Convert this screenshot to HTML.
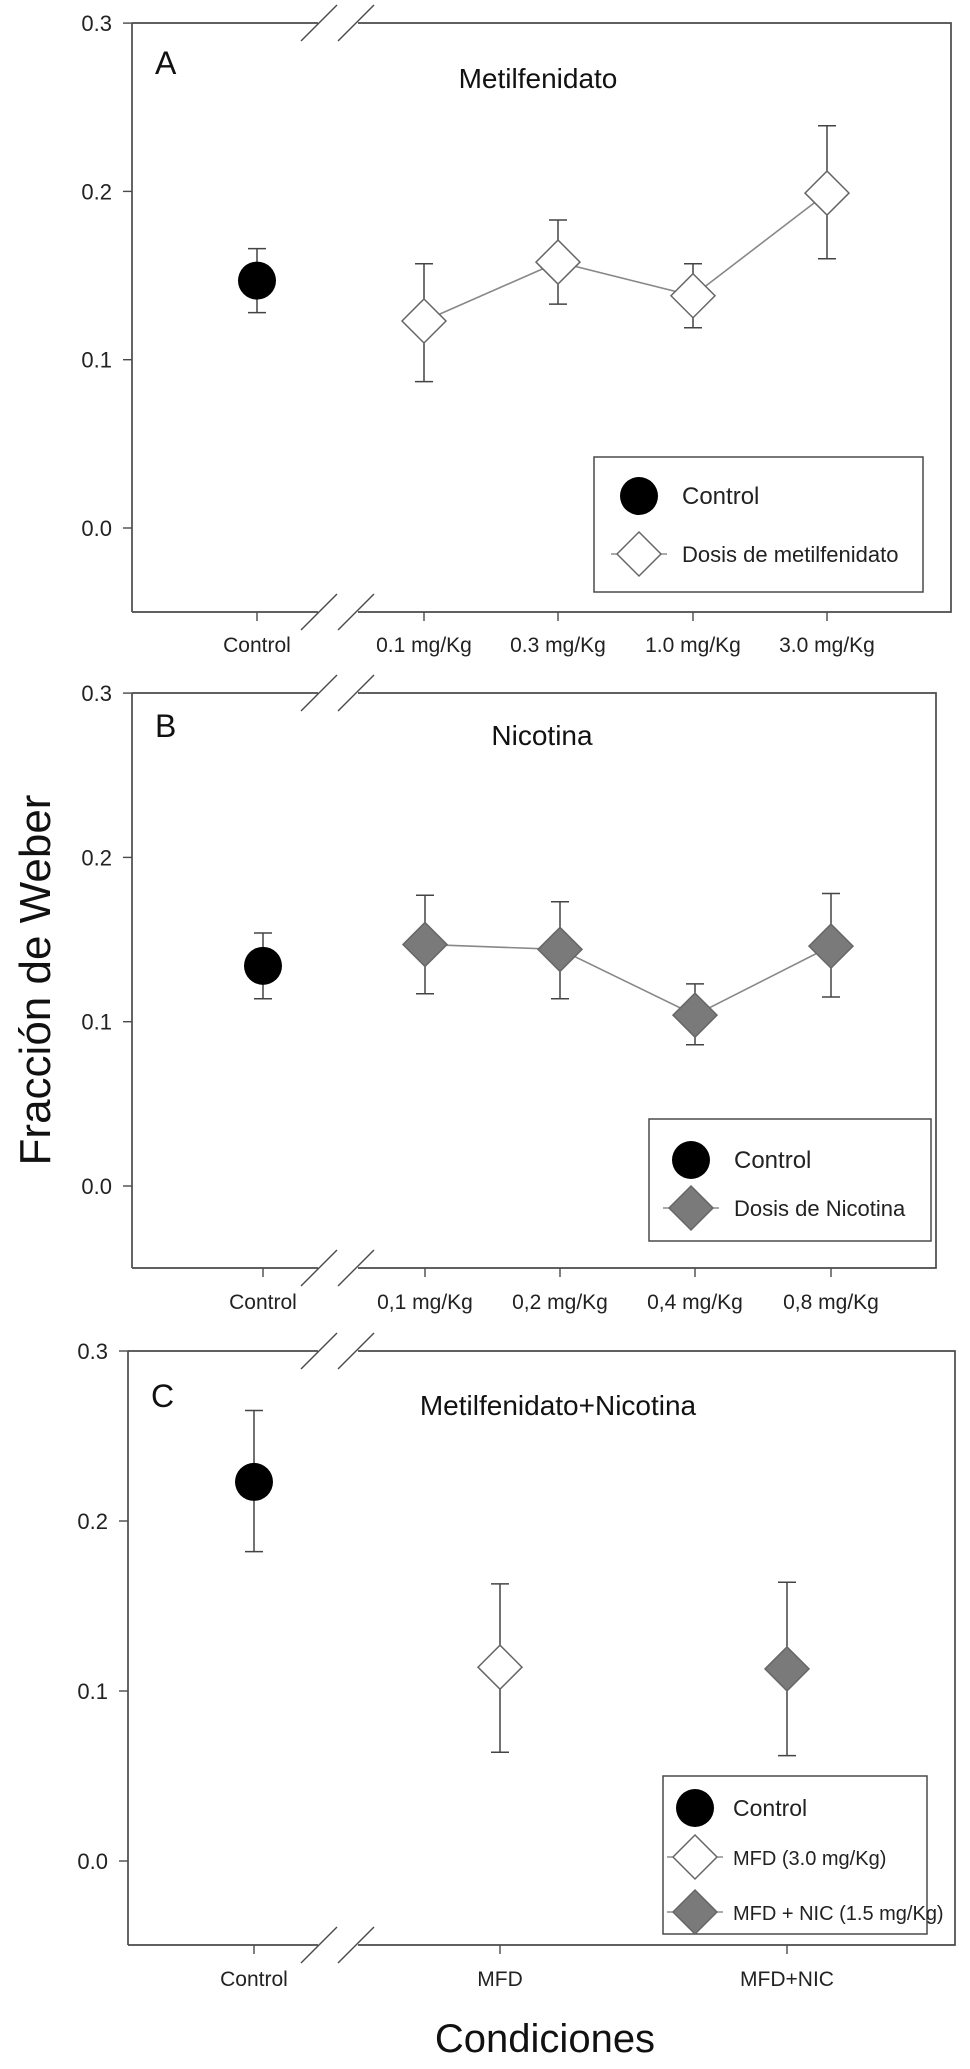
<!DOCTYPE html>
<html><head><meta charset="utf-8"><style>
html,body{margin:0;padding:0;background:#fff;}
svg{display:block;font-family:"Liberation Sans",Arial,sans-serif;}
</style></head><body>
<svg id="fig" width="970" height="2069" viewBox="0 0 970 2069" xmlns="http://www.w3.org/2000/svg">
<text x="0" y="0" transform="translate(50,980) rotate(-90)" text-anchor="middle" font-size="44" fill="#111">Fracción de Weber</text>
<text x="545" y="2052" text-anchor="middle" font-size="40" fill="#111">Condiciones</text>
</svg>
<script>
// ---- data ----
const yTicks = [0.0, 0.1, 0.2, 0.3];
const yTickLabels = ["0.0", "0.1", "0.2", "0.3"];
const catsA = ["Control", "0.1 mg/Kg", "0.3 mg/Kg", "1.0 mg/Kg", "3.0 mg/Kg"];
const meanA = [0.147, 0.123, 0.158, 0.138, 0.199];
const hiA = [0.166, 0.157, 0.183, 0.157, 0.239];
const loA = [0.128, 0.087, 0.133, 0.119, 0.160];
const catsB = ["Control", "0,1 mg/Kg", "0,2  mg/Kg", "0,4  mg/Kg", "0,8  mg/Kg"];
const meanB = [0.134, 0.147, 0.144, 0.104, 0.146];
const hiB = [0.154, 0.177, 0.173, 0.123, 0.178];
const loB = [0.114, 0.117, 0.114, 0.086, 0.115];
const catsC = ["Control", "MFD", "MFD+NIC"];
const meanC = [0.223, 0.114, 0.113];
const hiC = [0.265, 0.163, 0.164];
const loC = [0.182, 0.064, 0.062];

const NS = "http://www.w3.org/2000/svg";
const svg = document.getElementById('fig');
function mk(tag, attrs, parent, text) {
  const e = document.createElementNS(NS, tag);
  for (const k in attrs) e.setAttribute(k, attrs[k]);
  if (text !== undefined) e.textContent = text;
  (parent || svg).appendChild(e);
  return e;
}
const STK = "#4a4a4a";
const CR = 19, DR = 22;

function panel(cfg, cats, mean, hi, lo) {
  const g = mk('g', {});
  
  
  const y = v => cfg.y0 - (v - 0) / 0.1 * cfg.sp;
  const x = i => cfg.xs[i];
  const fr = mk('path', {d: `M${cfg.L},${cfg.T} H318 M358,${cfg.T} H${cfg.R} V${cfg.B} H358 M318,${cfg.B} H${cfg.L} Z`, fill: 'none', stroke: STK, 'stroke-width': 1.7}, g);
  
  
  const fl = mk('line', {x1: cfg.L, y1: cfg.T, x2: cfg.L, y2: cfg.B, stroke: STK, 'stroke-width': 1.7}, g);
  
  
  [cfg.T, cfg.B].forEach(yy => {
    [0, 37].forEach(dx => {
      const s = mk('line', {x1: 301 + dx, y1: yy + 18, x2: 337 + dx, y2: yy - 18, stroke: STK, 'stroke-width': 1.4}, g);
      
      
    });
  });
  yTicks.forEach((v, i) => {
    const t = mk('line', {x1: cfg.L - 9, y1: y(v), x2: cfg.L, y2: y(v), stroke: STK, 'stroke-width': 1.4}, g);
    
    
    const l = mk('text', {x: cfg.L - 20, y: y(v) + 8, 'text-anchor': 'end', 'font-size': 22, fill: '#222'}, g, yTickLabels[i]);
    
    
  });
  cats.forEach((c, i) => {
    const t = mk('line', {x1: x(i), y1: cfg.B, x2: x(i), y2: cfg.B + 9, stroke: STK, 'stroke-width': 1.4}, g);
    
    
    const l = mk('text', {x: x(i), y: cfg.lblY, 'text-anchor': 'middle', 'font-size': 21, fill: '#222'}, g, c);
    
    
  });
  const lt = mk('text', {x: cfg.L + 23, y: cfg.letterY, 'font-size': 32, fill: '#111'}, g, cfg.letter);
  
  
  const tt = mk('text', {x: cfg.titleX, y: cfg.titleY, 'text-anchor': 'middle', 'font-size': 28, fill: '#111'}, g, cfg.title);
  
  
  if (cfg.connect) {
    const pts = mean.slice(1).map((v, k) => `${x(k + 1)},${y(v)}`).join(' ');
    const pl = mk('polyline', {points: pts, fill: 'none', stroke: '#888', 'stroke-width': 1.6}, g);
    
    
  }
  mean.forEach((v, i) => {
    const eb = mk('path', {d: `M${x(i)},${y(hi[i])} V${y(lo[i])} M${x(i) - 9},${y(hi[i])} H${x(i) + 9} M${x(i) - 9},${y(lo[i])} H${x(i) + 9}`, stroke: '#444', 'stroke-width': 1.5, fill: 'none'}, g);
    
    
    const type = cfg.markers[i];
    let m;
    if (type === 'circle') {
      m = mk('ellipse', {cx: x(i), cy: y(v), rx: CR, ry: CR, fill: '#000'}, g);
      
    } else {
      const cx = x(i), cy = y(v), r = DR;
      m = mk('polygon', {points: `${cx},${cy - r} ${cx + r},${cy} ${cx},${cy + r} ${cx - r},${cy}`, fill: type === 'white' ? '#fff' : '#7a7a7a', stroke: '#666', 'stroke-width': 1.5}, g);
      
    }
    
  });
  const lg = mk('g', {}, g);
  
  
  const L = cfg.legend;
  mk('rect', {x: L.x, y: L.y, width: L.w, height: L.h, fill: '#fff', stroke: STK, 'stroke-width': 1.5}, lg);
  L.entries.forEach(en => {
    const eg = mk('g', {}, lg);
    
    
    if (en.m === 'circle') mk('circle', {cx: L.mx, cy: en.y, r: CR, fill: '#000'}, eg);
    else {
      mk('line', {x1: L.mx - 28, y1: en.y, x2: L.mx + 28, y2: en.y, stroke: '#777', 'stroke-width': 1.3}, eg);
      const r = DR;
      mk('polygon', {points: `${L.mx},${en.y - r} ${L.mx + r},${en.y} ${L.mx},${en.y + r} ${L.mx - r},${en.y}`, fill: en.m === 'white' ? '#fff' : '#7a7a7a', stroke: '#666', 'stroke-width': 1.5}, eg);
    }
    mk('text', {x: L.tx, y: en.y + 8, 'font-size': en.fs, fill: '#222'}, eg, en.t);
  });
}

panel({name: 'panel-a-metilfenidato', L: 132, R: 951, T: 23, B: 612, y0: 528, sp: 168.3,
  xs: [257, 424, 558, 693, 827], lblY: 652, letter: 'A', letterY: 74, title: 'Metilfenidato', titleX: 538, titleY: 88,
  connect: true, markers: ['circle', 'white', 'white', 'white', 'white'],
  legend: {x: 594, y: 457, w: 329, h: 135, mx: 639, tx: 682, entries: [
    {m: 'circle', y: 496, t: 'Control', fs: 24}, {m: 'white', y: 554, t: 'Dosis de metilfenidato', fs: 22}]}},
  catsA, meanA, hiA, loA);

panel({name: 'panel-b-nicotina', L: 132, R: 936, T: 693, B: 1268, y0: 1186, sp: 164.3,
  xs: [263, 425, 560, 695, 831], lblY: 1309, letter: 'B', letterY: 737, title: 'Nicotina', titleX: 542, titleY: 745,
  connect: true, markers: ['circle', 'gray', 'gray', 'gray', 'gray'],
  legend: {x: 649, y: 1119, w: 282, h: 122, mx: 691, tx: 734, entries: [
    {m: 'circle', y: 1160, t: 'Control', fs: 24}, {m: 'gray', y: 1208, t: 'Dosis de Nicotina', fs: 22}]}},
  catsB, meanB, hiB, loB);

panel({name: 'panel-c-combinado', L: 128, R: 955, T: 1351, B: 1945, y0: 1861, sp: 170,
  xs: [254, 500, 787], lblY: 1986, letter: 'C', letterY: 1407, title: 'Metilfenidato+Nicotina', titleX: 558, titleY: 1415,
  connect: false, markers: ['circle', 'white', 'gray'],
  legend: {x: 663, y: 1776, w: 264, h: 158, mx: 695, tx: 733, entries: [
    {m: 'circle', y: 1808, t: 'Control', fs: 23}, {m: 'white', y: 1857, t: 'MFD (3.0 mg/Kg)', fs: 20}, {m: 'gray', y: 1912, t: 'MFD + NIC (1.5 mg/Kg)', fs: 20}]}},
  catsC, meanC, hiC, loC);
</script>
</body></html>
